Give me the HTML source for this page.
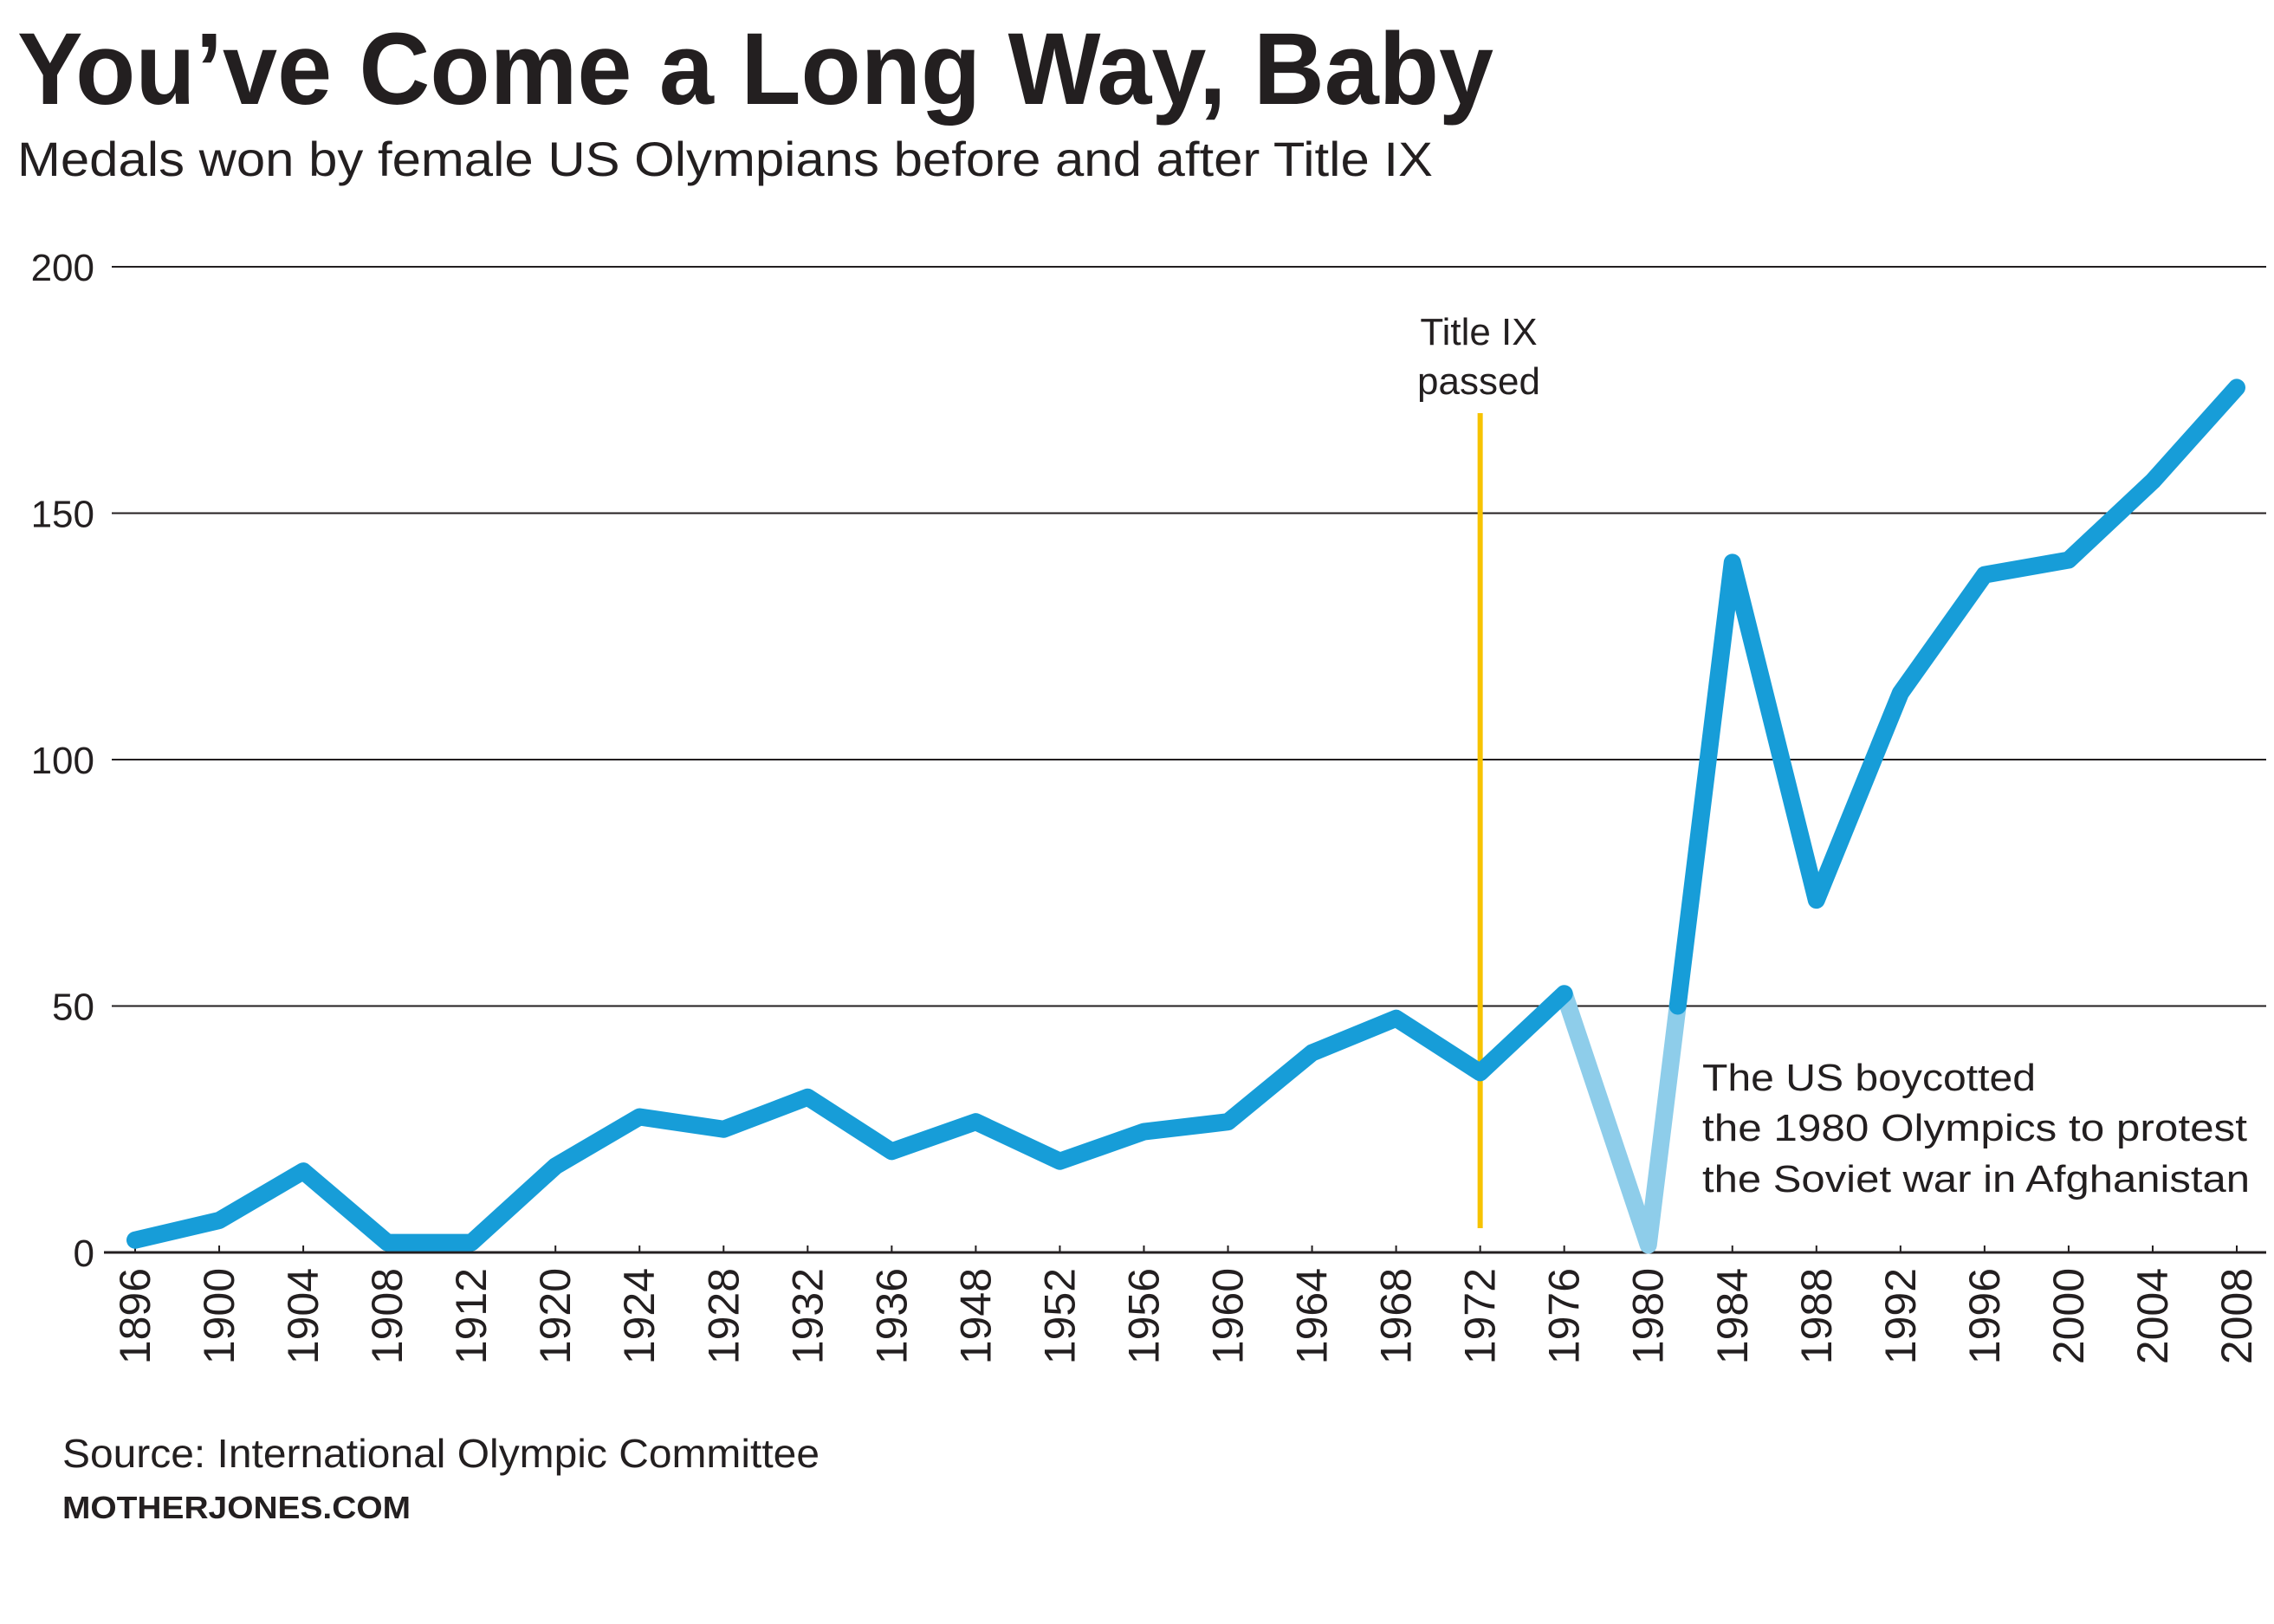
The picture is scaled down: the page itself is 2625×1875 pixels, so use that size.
<!DOCTYPE html>
<html><head><meta charset="utf-8"><style>
html,body{margin:0;padding:0;background:#fff;}
svg{display:block;font-family:"Liberation Sans",sans-serif;}
</style></head><body>
<svg id="chart" width="2625" height="1875" viewBox="0 0 2625 1875" xmlns="http://www.w3.org/2000/svg">
<text x="20" y="120" font-size="118" font-weight="bold" fill="#231f20" textLength="1704" lengthAdjust="spacingAndGlyphs">You’ve Come a Long Way, Baby</text>
<text x="20" y="203" font-size="56" fill="#231f20" textLength="1634" lengthAdjust="spacingAndGlyphs">Medals won by female US Olympians before and after Title IX</text>
<g id="grid"></g>
<g id="xaxis"></g>
<g id="series"></g>
<g>
<text x="1707" y="398" font-size="44" fill="#231f20" text-anchor="middle">Title IX</text>
<text x="1707" y="455" font-size="44" fill="#231f20" text-anchor="middle">passed</text>
</g>
<g font-size="44" fill="#231f20">
<text x="1965" y="1259" textLength="385" lengthAdjust="spacingAndGlyphs">The US boycotted</text>
<text x="1965" y="1317" textLength="629" lengthAdjust="spacingAndGlyphs">the 1980 Olympics to protest</text>
<text x="1965" y="1376" textLength="632" lengthAdjust="spacingAndGlyphs">the Soviet war in Afghanistan</text>
</g>
<text x="72" y="1694" font-size="46" fill="#231f20" textLength="874" lengthAdjust="spacingAndGlyphs">Source: International Olympic Committee</text>
<text x="72" y="1753" font-size="36" font-weight="bold" fill="#231f20" textLength="402" lengthAdjust="spacingAndGlyphs">MOTHERJONES.COM</text>
</svg>
<script>
const categories=["1896","1900","1904","1908","1912","1920","1924","1928","1932","1936","1948","1952","1956","1960","1964","1968","1972","1976","1980","1984","1988","1992","1996","2000","2004","2008"];
const medals=[2.5,6.5,16.5,2,2,17.5,27.5,25,31.5,20.5,26.5,18.5,24.5,26.5,40.5,47.5,36.5,52.5,1.5,140,71.5,113.5,137.5,140.5,156.5,175.5];
const yTicks=[0,50,100,150,200];
const boycottYear="1980";
const titleIXYear="1972";
const NS="http://www.w3.org/2000/svg";
const x0=156,x1=2582,yBase=1446,yTop=308;
function xs(i){return x0+(x1-x0)*i/(categories.length-1);}
function ys(v){return yBase-(yBase-yTop)*v/200;}
function mk(tag,attrs,parent){const e=document.createElementNS(NS,tag);for(const k in attrs)e.setAttribute(k,attrs[k]);parent.appendChild(e);return e;}
const grid=document.getElementById('grid');
yTicks.forEach(t=>{
  if(t>0){const l=mk('line',{x1:129,x2:2616,y1:ys(t),y2:ys(t),stroke:'#231f20','stroke-width':2},grid);
  
  }
  const tx=mk('text',{x:109,y:ys(t)+16,'font-size':44,fill:'#231f20','text-anchor':'end'},grid);
  tx.textContent=t;
  
  
});
const xa=document.getElementById('xaxis');
const ax=mk('line',{x1:120,x2:2616,y1:yBase,y2:yBase,stroke:'#231f20','stroke-width':3},xa);


categories.forEach((c,i)=>{
  const tk=mk('line',{x1:xs(i),x2:xs(i),y1:yBase-8,y2:yBase,stroke:'#231f20','stroke-width':2},xa);
  
  
  const tx=mk('text',{x:0,y:0,'font-size':50,fill:'#231f20','text-anchor':'end',transform:`translate(${xs(i)+17},1464) rotate(-90)`},xa);
  tx.textContent=c;
  
  
});
const s=document.getElementById('series');
const ti=categories.indexOf(titleIXYear);
const yl=mk('line',{x1:xs(ti),x2:xs(ti),y1:477,y2:1418,stroke:'#f7c300','stroke-width':6},s);


const bi=categories.indexOf(boycottYear);
let p1=medals.slice(0,bi).map((v,i)=>xs(i)+','+ys(v)).join(' ');
const v0=medals[bi],vN=medals[bi+1];
const f=(50-v0)/(vN-v0);
const cx=xs(bi)+(xs(bi+1)-xs(bi))*f, cy=ys(50);
const light=mk('polyline',{points:`${xs(bi-1)},${ys(medals[bi-1])} ${xs(bi)},${ys(v0)} ${cx},${cy}`,fill:'none',stroke:'#8ecdea','stroke-width':20,'stroke-linejoin':'round','stroke-linecap':'butt'},s);


const d1=mk('polyline',{points:p1,fill:'none',stroke:'#179dd8','stroke-width':20,'stroke-linejoin':'round','stroke-linecap':'round'},s);


let p2=`${cx},${cy} `+medals.slice(bi+1).map((v,i)=>xs(i+bi+1)+','+ys(v)).join(' ');
const d2=mk('polyline',{points:p2,fill:'none',stroke:'#179dd8','stroke-width':20,'stroke-linejoin':'round','stroke-linecap':'round'},s);


</script>
</body></html>
